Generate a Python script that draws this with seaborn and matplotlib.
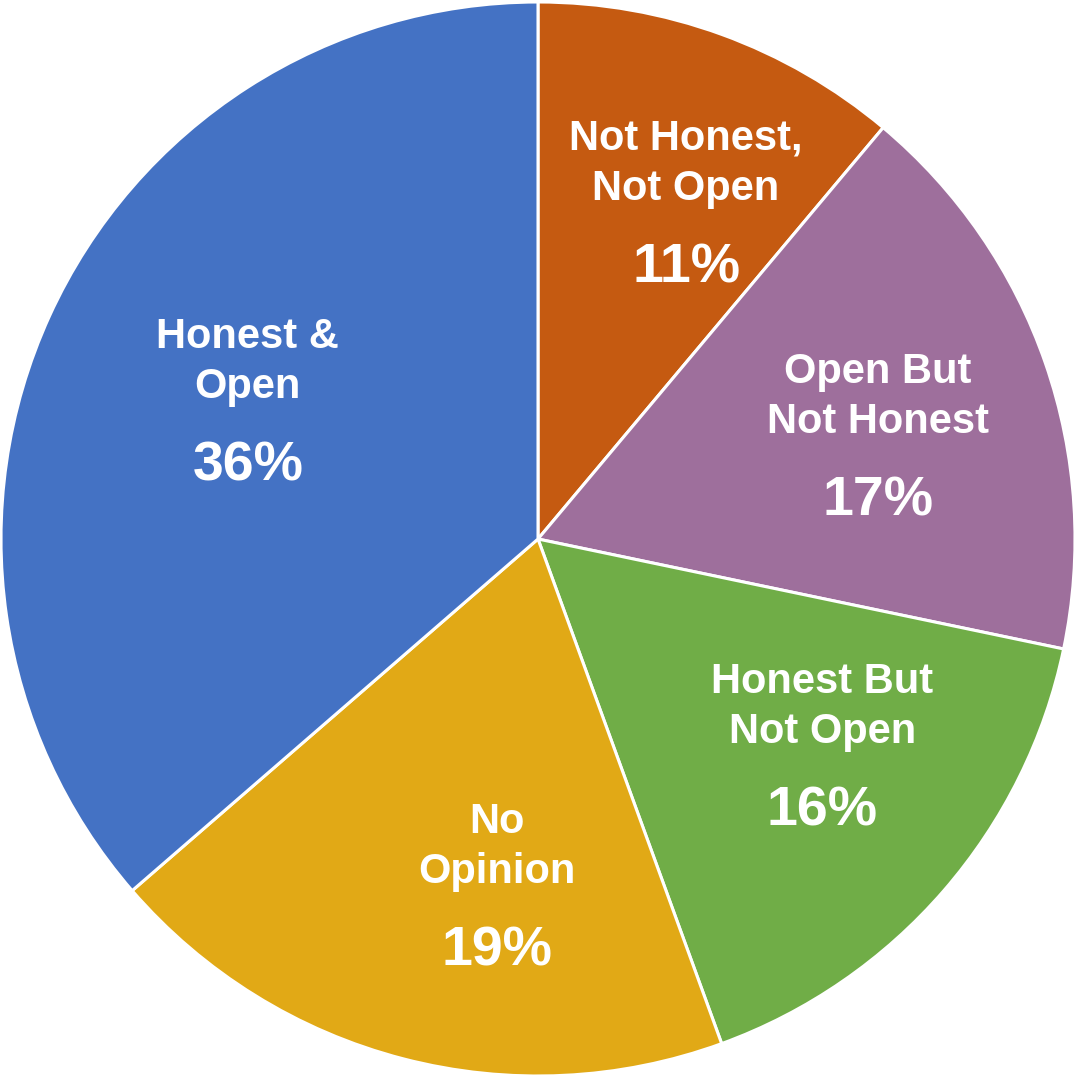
import numpy as np
import matplotlib
matplotlib.use("Agg")
import matplotlib.pyplot as plt
import seaborn as sns

categories = ["Not Honest,\nNot Open", "Open But\nNot Honest", "Honest But\nNot Open", "No\nOpinion", "Honest &\nOpen"]
values = [11, 17, 16, 19, 36]
pct_labels = ["11%", "17%", "16%", "19%", "36%"]
colors = ["#C55A11", "#9E6F9C", "#70AD47", "#E1A916", "#4472C4"]
# label placement (layout): radius fraction and angular nudge in degrees
label_radius = [0.665, 0.656, 0.667, 0.671, 0.59]
label_nudge = [-4.5, -4.0, 3.4, 8.0, 0.9]

sns.set_theme(style="white")
plt.rcParams["font.family"] = ["Liberation Sans", "DejaVu Sans"]

fig = plt.figure(figsize=(10.76, 10.78), dpi=100)
ax = fig.add_axes([0, 0, 1, 1])
wedges, _ = ax.pie(values, colors=colors, startangle=90, counterclock=False,
                   radius=1.0, wedgeprops=dict(edgecolor="white", linewidth=2.2))
ax.set_aspect("auto")
ax.set_xlim(-538 / 537, 538 / 537)
ax.set_ylim(-539 / 537, 539 / 537)
ax.axis("off")

for w, name, pct, r, d in zip(wedges, categories, pct_labels, label_radius, label_nudge):
    mid = np.deg2rad((w.theta1 + w.theta2) / 2 + d)
    x, y = r * np.cos(mid), r * np.sin(mid)
    ax.text(x, y + 0.093, name, ha="center", va="center", color="white",
            fontsize=30, fontweight="bold", linespacing=1.33)
    ax.text(x, y - 0.101, pct, ha="center", va="center", color="white",
            fontsize=40, fontweight="bold")

fig.savefig("out.png", dpi=100)
